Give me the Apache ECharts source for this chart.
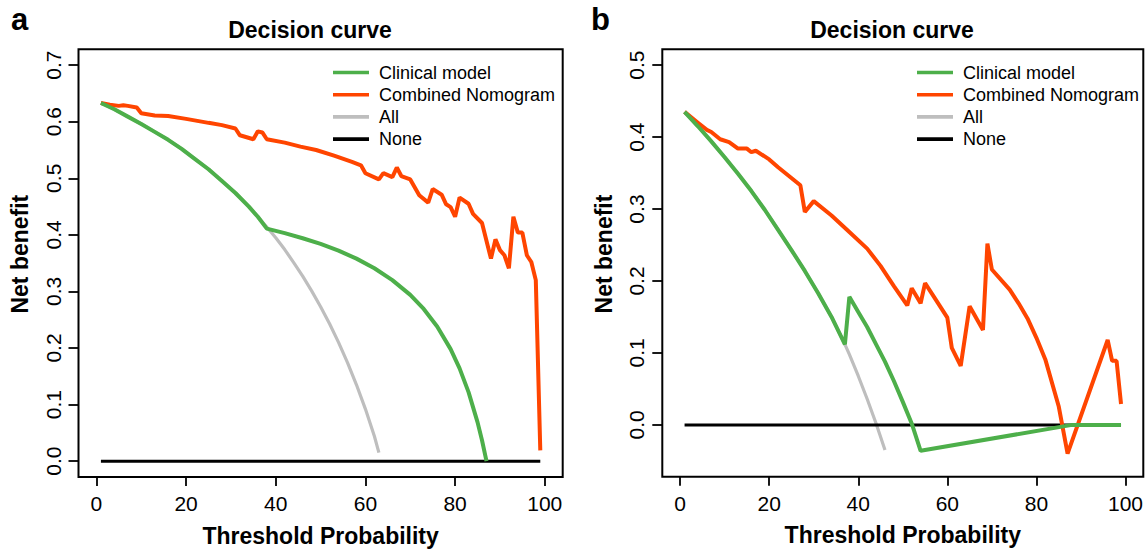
<!DOCTYPE html>
<html>
<head>
<meta charset="utf-8">
<script src="https://cdn.jsdelivr.net/npm/echarts@6/dist/echarts.min.js"></script>
<style>
html,body{margin:0;padding:0;background:#fff;}
#chart{width:1146px;height:552px;}
</style>
</head>
<body>
<div id="chart"></div>
<script>
// ---------- Data ----------
const seriesNames = ['Clinical model', 'Combined Nomogram', 'All', 'None'];
const xTicks = [0, 20, 40, 60, 80, 100];
const yTicksA = [0, 0.1, 0.2, 0.3, 0.4, 0.5, 0.6, 0.7];
const yTicksB = [0, 0.1, 0.2, 0.3, 0.4, 0.5];

// Panel a
const aClinX = [1,4,7,10,13,16,19,22,25,28,31,34,36,38,42,46,50,54,58,62,66,70,73,76,79,81,83,85,86,87];
const aClinY = [0.633,0.622,0.609,0.596,0.582,0.568,0.552,0.534,0.516,0.495,0.474,0.450,0.432,0.411,0.403,0.394,0.384,0.372,0.358,0.341,0.320,0.294,0.269,0.238,0.198,0.164,0.122,0.069,0.037,0.0];
const aCombX = [1,3,5,6,7,9,10,13,16,20,25,28,31,32,35,36,37,38,42,45.5,49,53,57,59,60,63,64,66,67,68,70,72,74,75,77,78,79,80,81,83,84,86,88,89,90,91,92,93,94,95,96,97,98,99];
const aCombY = [0.633,0.630,0.628,0.629,0.628,0.625,0.615,0.611,0.610,0.605,0.598,0.594,0.588,0.576,0.569,0.583,0.581,0.569,0.563,0.556,0.550,0.540,0.529,0.523,0.509,0.498,0.509,0.502,0.519,0.504,0.498,0.470,0.457,0.481,0.471,0.454,0.449,0.432,0.466,0.455,0.437,0.421,0.358,0.392,0.373,0.364,0.341,0.432,0.404,0.404,0.364,0.352,0.320,0.019];
const aAllX = [1,4,7,10,13,16,19,22,25,28,31,34,36,38,40,42,44,46,48,50,52,54,56,58,60,62,63];
const aAllY = [0.633,0.622,0.609,0.596,0.582,0.568,0.552,0.534,0.516,0.495,0.474,0.450,0.432,0.414,0.395,0.374,0.351,0.327,0.301,0.273,0.243,0.210,0.174,0.135,0.092,0.044,0.015];
const aNoneX = [1, 99];
const aNoneY = [0, 0];

// Panel b
const bClinX = [1,4,7,10,13,16,19,22,25,28,31,34,37,38,40,42,44,46,48,50,52,53,54,88,99];
const bClinY = [0.435,0.415,0.394,0.372,0.349,0.325,0.299,0.271,0.243,0.214,0.183,0.150,0.112,0.178,0.157,0.136,0.112,0.088,0.061,0.032,0.002,-0.017,-0.036,0.0,0.0];
const bCombX = [1,4,6,7,9,11,13,15,16,17,20,22,27,28,30,34,38,42,45,48,51,52,54,55,57,60,61,63,65,68,69,70,74,76,78,80,82,85,87,96,97,98,99];
const bCombY = [0.435,0.420,0.410,0.407,0.397,0.393,0.384,0.384,0.379,0.381,0.369,0.358,0.333,0.296,0.311,0.291,0.268,0.245,0.221,0.193,0.166,0.190,0.169,0.197,0.178,0.149,0.107,0.082,0.165,0.132,0.252,0.216,0.188,0.169,0.148,0.121,0.091,0.026,-0.040,0.118,0.089,0.089,0.029];
const bAllX = [1,4,7,10,13,16,19,22,25,28,31,34,37,38,40,42,44,46];
const bAllY = [0.435,0.415,0.394,0.372,0.349,0.325,0.299,0.271,0.243,0.214,0.183,0.150,0.112,0.098,0.068,0.036,0.002,-0.035];
const bNoneX = [1, 99];
const bNoneY = [0, 0];

// ---------- Chart ----------
const FONT = '"Liberation Sans", Arial, Helvetica, sans-serif';
const colors = {
  'Clinical model': '#4DAF4A',
  'Combined Nomogram': '#FF4500',
  'All': '#BEBEBE',
  'None': '#000000'
};
const pairs = (xs, ys) => xs.map((x, i) => [x, ys[i]]);

function lineSeries(name, idx, xs, ys, width) {
  return {
    name: name, type: 'line', xAxisIndex: idx, yAxisIndex: idx,
    data: pairs(xs, ys), showSymbol: false, symbol: 'none', smooth: false,
    color: colors[name],
    lineStyle: { color: colors[name], width: width },
    emphasis: { disabled: true }, silent: true, animation: false
  };
}

const grids = [
  { left: 78.5, top: 49.3, width: 484.2, height: 427.7 },
  { left: 662.3, top: 49.3, width: 481.7, height: 427.4 }
];

function xAxisCfg(idx) {
  return {
    type: 'value', gridIndex: idx, min: -4, max: 104, position: 'bottom',
    axisLine: { show: false, onZero: false },
    splitLine: { show: false },
    axisTick: { show: true, inside: false, length: 9, lineStyle: { color: '#000', width: 1.8 }, customValues: xTicks },
    axisLabel: { show: true, customValues: xTicks, margin: 16, color: '#000', fontSize: 21, fontFamily: FONT },
    name: 'Threshold Probability', nameLocation: 'middle', nameGap: 47,
    nameTextStyle: { color: '#000', fontSize: 23, fontWeight: 'bold', fontFamily: FONT }
  };
}
function yAxisCfg(idx, min, max, ticks) {
  return {
    type: 'value', gridIndex: idx, min: min, max: max, position: 'left',
    axisLine: { show: false, onZero: false },
    splitLine: { show: false },
    axisTick: { show: true, inside: false, length: 10, lineStyle: { color: '#000', width: 1.8 }, customValues: ticks },
    axisLabel: { show: true, customValues: ticks, rotate: 90, margin: 15, color: '#000', fontSize: 21, fontFamily: FONT,
      formatter: v => Number(v).toFixed(1) },
    name: 'Net benefit', nameLocation: 'middle', nameRotate: 90, nameGap: 47,
    nameTextStyle: { color: '#000', fontSize: 23, fontWeight: 'bold', fontFamily: FONT, padding: [0, 0, 0, 18] }
  };
}

function legendCfg(left) {
  return {
    left: left, top: 58.5, orient: 'vertical', itemWidth: 36, itemHeight: 3.6, itemGap: 4.2,
    icon: 'rect', selectedMode: false,
    data: seriesNames,
    textStyle: { color: '#000', fontSize: 18, fontFamily: FONT, lineHeight: 18, padding: [0, 0, 0, 5] }
  };
}

const chart = echarts.init(document.getElementById('chart'), null, { renderer: 'svg', width: 1146, height: 552 });
chart.setOption({
  animation: false,
  backgroundColor: '#fff',
  grid: grids.map(g => Object.assign({ show: true, borderColor: '#000', borderWidth: 2, backgroundColor: 'transparent' }, g)),
  xAxis: [xAxisCfg(0), xAxisCfg(1)],
  yAxis: [yAxisCfg(0, -0.028, 0.728, yTicksA), yAxisCfg(1, -0.072, 0.522, yTicksB)],
  legend: [legendCfg(328), legendCfg(912)],
  graphic: [
    { type: 'text', left: 11, top: 4, style: { text: 'a', fontSize: 31, fontWeight: 'bold', fontFamily: FONT, fill: '#000' } },
    { type: 'text', left: 591, top: 4, style: { text: 'b', fontSize: 31, fontWeight: 'bold', fontFamily: FONT, fill: '#000' } },
    { type: 'text', x: 310, y: 30, style: { text: 'Decision curve', fontSize: 23, fontWeight: 'bold', fontFamily: FONT, fill: '#000', align: 'center', verticalAlign: 'middle' } },
    { type: 'text', x: 892, y: 30, style: { text: 'Decision curve', fontSize: 23, fontWeight: 'bold', fontFamily: FONT, fill: '#000', align: 'center', verticalAlign: 'middle' } }
  ],
  series: [
    lineSeries('All', 0, aAllX, aAllY, 3.2),
    lineSeries('None', 0, aNoneX, aNoneY, 3),
    lineSeries('Combined Nomogram', 0, aCombX, aCombY, 4),
    lineSeries('Clinical model', 0, aClinX, aClinY, 4),
    lineSeries('All', 1, bAllX, bAllY, 3.2),
    lineSeries('None', 1, bNoneX, bNoneY, 3),
    lineSeries('Combined Nomogram', 1, bCombX, bCombY, 4),
    lineSeries('Clinical model', 1, bClinX, bClinY, 4)
  ]
});
</script>
</body>
</html>
